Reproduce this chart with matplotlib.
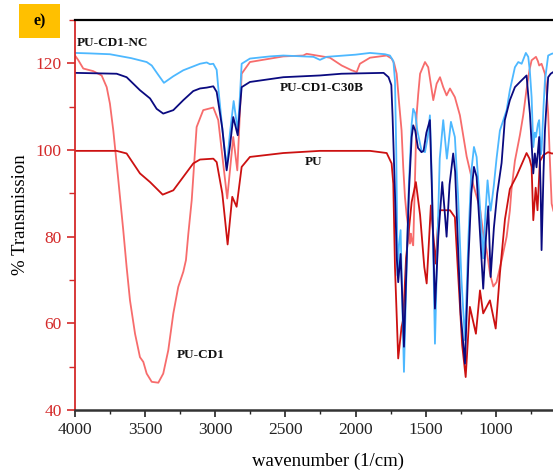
import matplotlib.pyplot as plt
from matplotlib.patches import Rectangle
from matplotlib.ticker import MultipleLocator

plt.rcParams['font.family'] = ['Liberation Serif', 'DejaVu Serif']

# PU-CD1-NC (light blue)
nc_wn = [4000, 3900, 3751, 3600, 3489, 3453, 3410, 3366, 3300, 3228, 3109, 3061, 3038, 3014,
         2990, 2979, 2950, 2919, 2895, 2869, 2840, 2825, 2812, 2753, 2610, 2515, 2300, 2254,
         2206, 2000, 1897, 1790, 1755, 1730, 1719, 1710, 1700, 1690, 1679, 1667, 1655, 1640,
         1620, 1600, 1589, 1575, 1560, 1530, 1505, 1485, 1470, 1455, 1434, 1415, 1400, 1375,
         1349, 1320, 1292, 1270, 1245, 1220, 1195, 1175, 1156, 1137, 1115, 1090, 1075, 1059,
         1045, 1037, 1025, 1014, 995, 971, 923, 900, 864, 840, 816, 786, 769, 757, 745, 733,
         722, 714, 700, 691, 680, 674, 660, 650, 627, 602, 590]
nc_t = [122.4, 122.3, 122.1, 121.2, 120.3, 119.5, 117.5, 115.5, 117.0, 118.4, 119.9, 120.2,
        119.8, 119.9, 118.5, 114.5, 105.0, 96.1, 104.0, 111.3, 104.5, 112.0, 119.9, 121.1,
        121.6, 121.8, 121.5, 120.8, 121.5, 122.0, 122.4, 122.1, 121.8, 120.5, 116.0, 100.0,
        71.0, 78.0, 81.5, 65.0, 48.8, 68.0, 92.0, 106.0, 109.5, 108.5, 104.5, 99.9, 99.5,
        103.0, 108.0, 92.0, 55.3, 80.0, 98.0, 106.9, 98.0, 106.5, 103.0, 90.0, 70.0, 56.1,
        80.0, 95.0, 100.7, 98.4, 88.0, 75.0, 85.0, 93.0, 88.0, 86.0, 89.0, 91.9, 98.0, 104.5,
        109.2, 113.8, 119.1, 120.3, 119.9, 122.4, 121.5, 118.0, 112.2, 100.7, 104.0, 103.0,
        106.0, 106.9, 99.0, 100.0, 110.0, 116.0, 121.8, 122.2, 122.3]

# PU-CD1-C30B (navy)
c30b_wn = [4000, 3703, 3632, 3537, 3465, 3418, 3371, 3299, 3228, 3157, 3109, 3061, 3014, 2990,
           2950, 2919, 2895, 2872, 2840, 2812, 2753, 2515, 2254, 2100, 1800, 1765, 1745, 1736,
           1719, 1706, 1696, 1679, 1667, 1655, 1640, 1620, 1600, 1589, 1575, 1555, 1530, 1515,
           1495, 1470, 1455, 1434, 1410, 1382, 1365, 1351, 1330, 1304, 1290, 1270, 1250, 1220,
           1195, 1175, 1156, 1137, 1115, 1090, 1070, 1054, 1037, 1014, 990, 959, 936, 900, 864,
           828, 781, 770, 757, 733, 722, 710, 691, 680, 674, 660, 650, 627, 609, 590]
c30b_t = [117.8, 117.6, 116.8, 113.8, 111.9, 109.5, 108.4, 109.2, 111.5, 113.6, 114.2, 114.4,
          114.7, 113.4, 105.0, 95.3, 101.0, 107.6, 103.4, 114.5, 115.7, 116.8, 117.2, 117.6,
          117.8, 116.8, 115.0, 107.6, 90.0, 75.0, 69.5, 76.0, 66.0, 54.6, 70.0, 90.0, 103.0,
          105.7, 104.5, 100.5, 99.5, 99.8, 104.0, 106.9, 90.0, 63.4, 80.0, 92.6, 86.0, 80.0,
          92.0, 99.2, 95.0, 78.0, 62.0, 50.7, 75.0, 90.0, 96.1, 93.8, 82.0, 68.0, 80.0, 87.0,
          70.7, 82.0, 90.0, 97.0, 106.9, 111.5, 114.5, 115.7, 117.2, 113.0, 108.4, 94.6, 99.2,
          96.0, 103.0, 90.0, 76.9, 95.0, 104.5, 116.8, 117.6, 118.0]

# PU (dark red)
pu_wn = [4000, 3703, 3632, 3537, 3465, 3375, 3299, 3228, 3157, 3109, 3014, 2990, 2950, 2912,
         2879, 2848, 2812, 2753, 2515, 2254, 1897, 1778, 1743, 1731, 1719, 1696, 1672, 1660,
         1640, 1600, 1570, 1540, 1510, 1493, 1463, 1445, 1429, 1410, 1398, 1327, 1292, 1270,
         1240, 1215, 1185, 1142, 1113, 1090, 1042, 1001, 971, 935, 900, 852, 805, 781, 760,
         745, 733, 716, 703, 686, 662, 627, 602, 590]
pu_t = [99.8, 99.8, 99.2, 94.6, 92.6, 89.7, 90.7, 93.8, 96.9, 97.8, 98.0, 97.2, 90.0, 78.2,
        89.2, 86.9, 96.1, 98.4, 99.3, 99.8, 99.8, 99.3, 96.9, 92.2, 73.0, 51.9, 59.2, 61.0,
        75.0, 88.0, 92.6, 85.0, 73.0, 69.2, 87.2, 80.0, 73.8, 84.0, 86.1, 86.1, 84.5, 72.0,
        55.0, 47.6, 63.8, 57.6, 67.6, 62.3, 65.3, 58.8, 71.5, 84.0, 91.0, 94.0, 97.5, 99.3,
        98.0, 96.1, 83.8, 91.3, 86.1, 97.4, 98.8, 99.5, 99.2, 99.2]

# PU-CD1 (light red)
cd1_wn = [4000, 3976, 3941, 3870, 3810, 3774, 3751, 3727, 3691, 3656, 3632, 3608, 3572, 3537,
          3513, 3489, 3453, 3406, 3371, 3335, 3299, 3264, 3228, 3209, 3192, 3168, 3133, 3086,
          3014, 2979, 2915, 2872, 2843, 2812, 2753, 2515, 2373, 2349, 2183, 2099, 2028, 1992,
          1969, 1897, 1826, 1778, 1743, 1725, 1707, 1690, 1672, 1660, 1648, 1636, 1624, 1612,
          1606, 1598, 1589, 1575, 1565, 1553, 1540, 1505, 1482, 1446, 1422, 1398, 1375, 1351,
          1327, 1292, 1256, 1208, 1161, 1113, 1090, 1066, 1042, 1018, 995, 959, 923, 900, 888,
          864, 828, 805, 781, 760, 745, 714, 700, 691, 674, 650, 635, 627, 615, 602, 590]
cd1_t = [121.8, 120.7, 118.8, 118.2, 117.2, 114.5, 110.7, 104.5, 93.0, 81.5, 73.0, 65.3, 57.6,
         52.2, 51.1, 48.4, 46.5, 46.3, 48.4, 53.8, 62.3, 68.4, 71.9, 74.6, 80.7, 88.4, 105.3,
         109.2, 109.8, 106.9, 88.8, 103.0, 95.3, 117.6, 120.3, 121.6, 121.8, 122.2, 121.3,
         119.5, 118.4, 118.0, 119.9, 121.3, 121.6, 121.8, 121.1, 120.0, 117.6, 111.0, 104.5,
         96.0, 89.2, 85.0, 82.2, 78.4, 80.7, 79.0, 78.0, 95.0, 108.0, 113.0, 117.6, 120.3,
         119.1, 111.5, 115.3, 116.8, 114.5, 112.6, 114.2, 112.2, 108.0, 98.5, 92.0, 86.5, 80.7,
         77.0, 71.5, 68.5, 69.5, 74.5, 80.0, 86.0, 91.0, 97.5, 103.5, 108.0, 114.0, 118.5,
         120.7, 121.5, 120.5, 119.5, 119.9, 117.6, 112.0, 108.4, 98.0, 87.6, 86.0]

x_ticks = [4000, 3500, 3000, 2500, 2000, 1500, 1000]
y_ticks = [40, 60, 80, 100, 120]

axis_red = '#d42a2a'

fig = plt.figure(figsize=(5.53, 4.72), dpi=100)
ax = fig.add_axes([75 / 553, 1 - 410 / 472, 505 / 553, 390 / 472])

ax.plot(cd1_wn, cd1_t, color='#f76c6c', lw=1.3)
ax.plot(pu_wn, pu_t, color='#cc1111', lw=1.3)
ax.plot(nc_wn, nc_t, color='#4db8ff', lw=1.3)
ax.plot(c30b_wn, c30b_t, color='#0a0a80', lw=1.3)

ax.set_xlim(4000, 400)
ax.set_ylim(40, 130)
ax.set_xticks(x_ticks)
ax.xaxis.set_minor_locator(MultipleLocator(250))
ax.set_yticks(y_ticks)
ax.yaxis.set_minor_locator(MultipleLocator(10))

ax.spines['right'].set_visible(False)
ax.spines['top'].set_linewidth(1.6)
ax.spines['top'].set_color('black')
ax.spines['bottom'].set_linewidth(1.8)
ax.spines['bottom'].set_color('#333333')
ax.spines['left'].set_linewidth(1.3)
ax.spines['left'].set_color(axis_red)

ax.tick_params(axis='x', which='major', direction='out', length=5, width=1.2,
               colors='#222222', labelsize=12.5, pad=4)
ax.tick_params(axis='x', which='minor', direction='out', length=3, width=1.0, color='#222222')
ax.tick_params(axis='y', which='major', direction='out', length=6, width=1.2,
               colors=axis_red, labelsize=12.5)
ax.tick_params(axis='y', which='minor', direction='out', length=4, width=1.0, color=axis_red)

ax.set_xlabel('wavenumber (1/cm)', fontsize=13.5, labelpad=10)
ax.set_ylabel('% Transmission', fontsize=13.5, labelpad=5)

lbl = dict(fontsize=9.5, fontweight='bold', color='#111111', va='center', ha='left')
ax.text(3986, 124.8, 'PU-CD1-NC', **lbl)
ax.text(2539, 114.4, 'PU-CD1-C30B', **lbl)
ax.text(2361, 97.2, 'PU', **lbl)
ax.text(3275, 52.6, 'PU-CD1', **lbl)

fig.patches.append(Rectangle((19 / 553, 1 - 38 / 472), 41 / 553, 34 / 472,
                             transform=fig.transFigure, facecolor='#ffc000',
                             edgecolor='none'))
fig.text(40 / 553, 1 - 21 / 472, 'e)', fontsize=11.5, fontweight='bold',
         ha='center', va='center')

fig.savefig('out.png', dpi=100)
